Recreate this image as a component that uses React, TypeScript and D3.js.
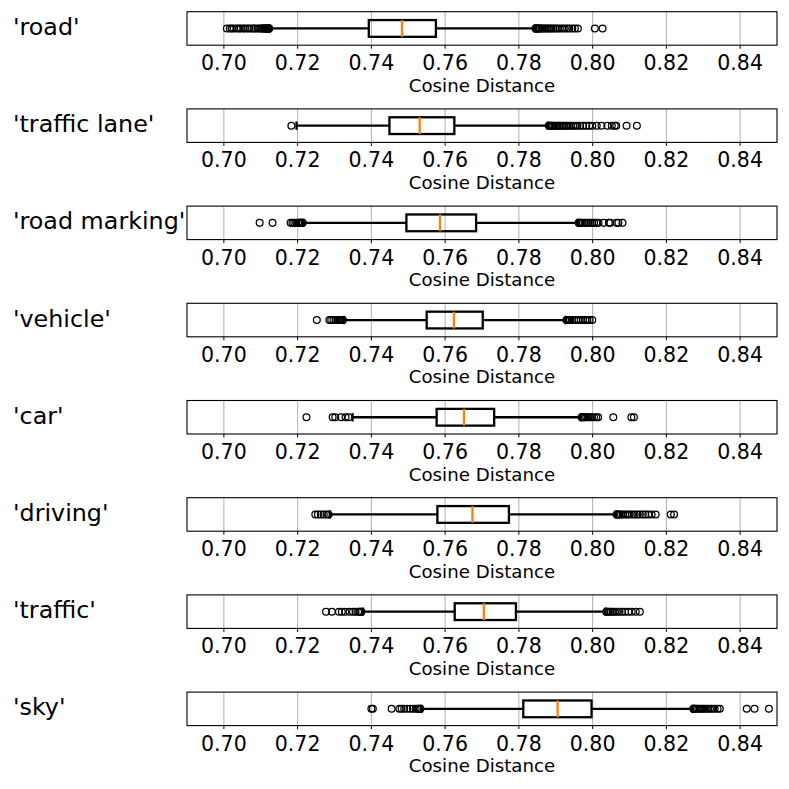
import * as React from 'react';
import * as d3 from 'd3';

// category labels, top to bottom
const labels = ["'road'", "'traffic lane'", "'road marking'", "'vehicle'", "'car'", "'driving'", "'traffic'", "'sky'"];

// box stats: [lower whisker, q1, median, q3, upper whisker]
const roadStats = [0.7125, 0.7393, 0.7483, 0.7575, 0.7843];
const laneStats = [0.7197, 0.7449, 0.7531, 0.7625, 0.7879];
const markingStats = [0.7216, 0.7495, 0.7586, 0.7684, 0.7960];
const vehicleStats = [0.7326, 0.7550, 0.7624, 0.7702, 0.7927];
const carStats = [0.7349, 0.7577, 0.7651, 0.7733, 0.7968];
const drivingStats = [0.7287, 0.7579, 0.7674, 0.7773, 0.8063];
const trafficStats = [0.7377, 0.7626, 0.7705, 0.7792, 0.8035];
const skyStats = [0.7536, 0.7812, 0.7905, 0.7997, 0.8271];

// fliers
const roadOut = [0.7008, 0.7016, 0.7021, 0.7027, 0.7035, 0.7041, 0.7046, 0.7053, 0.7057, 0.7064, 0.7069, 0.7076, 0.7081, 0.7085, 0.7091, 0.7096, 0.7101, 0.7104, 0.7107, 0.7109, 0.7111, 0.7113, 0.7115, 0.7117, 0.7119, 0.7120, 0.7122, 0.7123,
  0.7845, 0.7847, 0.7849, 0.7851, 0.7853, 0.7855, 0.7857, 0.7861, 0.7864, 0.7868, 0.7872, 0.7876, 0.7881, 0.7885, 0.7889, 0.7894, 0.7899, 0.7905, 0.7911, 0.7918, 0.7924, 0.7931, 0.7937, 0.7945, 0.7952, 0.7960, 0.8006, 0.8027];
const laneOut = [0.7183,
  0.7881, 0.7883, 0.7885, 0.7887, 0.7890, 0.7893, 0.7897, 0.7901, 0.7905, 0.7909, 0.7913, 0.7918, 0.7922, 0.7927, 0.7931, 0.7936, 0.7941, 0.7947, 0.7953, 0.7959, 0.7966, 0.7974, 0.7983, 0.7991, 0.7999, 0.8011, 0.8024, 0.8040, 0.8052, 0.8060, 0.8064, 0.8092, 0.8120];
const markingOut = [0.7097, 0.7132, 0.7181, 0.7186, 0.7191, 0.7196, 0.7201, 0.7204, 0.7206, 0.7208, 0.7210, 0.7212, 0.7214,
  0.7962, 0.7964, 0.7966, 0.7968, 0.7973, 0.7978, 0.7983, 0.7988, 0.7994, 0.7999, 0.8004, 0.8010, 0.8016, 0.8030, 0.8044, 0.8048, 0.8065, 0.8070, 0.8081];
const vehicleOut = [0.7252, 0.7286, 0.7291, 0.7297, 0.7303, 0.7308, 0.7311, 0.7313, 0.7315, 0.7317, 0.7319, 0.7321, 0.7323,
  0.7929, 0.7931, 0.7934, 0.7937, 0.7939, 0.7944, 0.7950, 0.7956, 0.7962, 0.7968, 0.7974, 0.7980, 0.7986, 0.7992, 0.7999];
const carOut = [0.7224, 0.7295, 0.7302, 0.7318, 0.7330, 0.7338,
  0.7970, 0.7972, 0.7975, 0.7977, 0.7979, 0.7983, 0.7988, 0.7993, 0.7998, 0.8004, 0.8010, 0.8015, 0.8056, 0.8105, 0.8112];
const drivingOut = [0.7248, 0.7255, 0.7263, 0.7271, 0.7278, 0.7284,
  0.8065, 0.8067, 0.8070, 0.8072, 0.8077, 0.8082, 0.8088, 0.8094, 0.8100, 0.8107, 0.8114, 0.8121, 0.8128, 0.8136, 0.8143, 0.8151, 0.8160, 0.8171, 0.8212, 0.8221];
const trafficOut = [0.7277, 0.7293, 0.7312, 0.7320, 0.7329, 0.7341, 0.7350, 0.7357, 0.7364, 0.7368, 0.7370, 0.7373,
  0.8037, 0.8039, 0.8042, 0.8044, 0.8049, 0.8054, 0.8060, 0.8066, 0.8073, 0.8080, 0.8088, 0.8097, 0.8106, 0.8117, 0.8128];
const skyOut = [0.7400, 0.7404, 0.7455, 0.7476, 0.7482, 0.7489, 0.7497, 0.7505, 0.7513, 0.7520, 0.7525, 0.7528, 0.7531, 0.7533,
  0.8273, 0.8275, 0.8277, 0.8279, 0.8283, 0.8287, 0.8292, 0.8297, 0.8302, 0.8307, 0.8312, 0.8318, 0.8324, 0.8331, 0.8339, 0.8345, 0.8418, 0.8439, 0.8478];

const xTicks = [0.70, 0.72, 0.74, 0.76, 0.78, 0.80, 0.82, 0.84];

const stats = [roadStats, laneStats, markingStats, vehicleStats, carStats, drivingStats, trafficStats, skyStats];
const fliers = [roadOut, laneOut, markingOut, vehicleOut, carOut, drivingOut, trafficOut, skyOut];

const W = 789;
const H = 789;
const left = 187;
const right = 777;
const top0 = 11.7;
const step = 97.2;
const panelH = 33.5;

const App: React.FC = () => {
  const x = d3.scaleLinear().domain([0.69, 0.85]).range([left, right]);
  const fmt = d3.format('.2f');
  const font = 'DejaVu Sans, sans-serif';
  const lw = 2.3;

  return (
    <svg width={W} height={H} style={{ position: 'absolute', left: 0, top: 0, background: '#fff' }}>
      {labels.map((lab, i) => {
        const top = top0 + i * step;
        const y = d3.scaleLinear().domain([0.5, 1.5]).range([top + panelH, top]);
        const [lo, q1, med, q3, hi] = stats[i];
        const cy = y(1);
        const bh = y(0.75) - y(1.25);
        const ch = y(0.875) - y(1.125);
        return (
          <g key={lab}>
            {/* grid */}
            {xTicks.map(t => (
              <line key={t} x1={x(t)} x2={x(t)} y1={top} y2={top + panelH} stroke="#b0b0b0" strokeWidth={1} />
            ))}
            {/* whiskers */}
            <line x1={x(lo)} x2={x(q1)} y1={cy} y2={cy} stroke="#000" strokeWidth={lw} />
            <line x1={x(q3)} x2={x(hi)} y1={cy} y2={cy} stroke="#000" strokeWidth={lw} />
            <line x1={x(lo)} x2={x(lo)} y1={cy - ch / 2} y2={cy + ch / 2} stroke="#000" strokeWidth={lw} />
            <line x1={x(hi)} x2={x(hi)} y1={cy - ch / 2} y2={cy + ch / 2} stroke="#000" strokeWidth={lw} />
            {/* box */}
            <rect x={x(q1)} y={cy - bh / 2} width={x(q3) - x(q1)} height={bh} fill="none" stroke="#000" strokeWidth={lw} />
            <line x1={x(med)} x2={x(med)} y1={cy - bh / 2} y2={cy + bh / 2} stroke="#ff7f0e" strokeWidth={lw} />
            {/* fliers */}
            {fliers[i].map((v, k) => (
              <circle key={k} cx={x(v)} cy={cy} r={3.4} fill="none" stroke="#000" strokeWidth={1.25} />
            ))}
            {/* frame */}
            <rect x={left} y={top} width={right - left} height={panelH} fill="none" stroke="#000" strokeWidth={1.1} />
            {/* x ticks */}
            {xTicks.map(t => (
              <g key={'t' + t}>
                <line x1={x(t)} x2={x(t)} y1={top + panelH} y2={top + panelH + 3.5} stroke="#000" strokeWidth={1} />
                <text x={x(t)} y={top + panelH + 25} textAnchor="middle" fontFamily={font} fontSize={20.5} fill="#000">
                  {fmt(t)}
                </text>
              </g>
            ))}
            <text x={(left + right) / 2} y={top + panelH + 46.5} textAnchor="middle" fontFamily={font} fontSize={18.2} fill="#000">
              Cosine Distance
            </text>
            <text x={13} y={cy + 6.5} textAnchor="start" fontFamily={font} fontSize={23.8} fill="#000">
              {lab}
            </text>
          </g>
        );
      })}
    </svg>
  );
};

export default App;
